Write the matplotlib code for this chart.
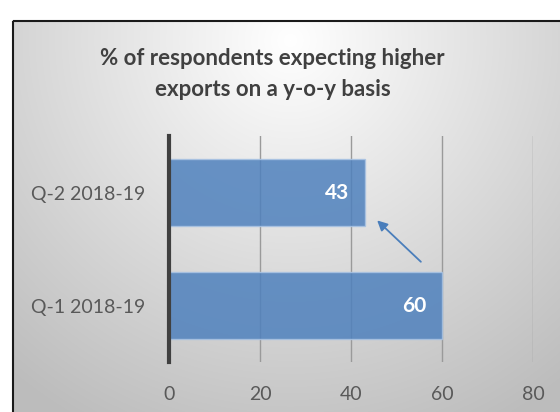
import numpy as np
import matplotlib.pyplot as plt
from matplotlib.patches import Rectangle

categories = ['Q-1 2018-19', 'Q-2 2018-19']
values = [60, 43]
xticks = [0, 20, 40, 60, 80]
title = '% of respondents expecting higher\nexports on a y-o-y basis'

plt.rcParams['font.family'] = ['Lato', 'DejaVu Sans']

fig = plt.figure(figsize=(5.6, 4.12), dpi=100)

# gradient background of the chart area
bg = fig.add_axes([0, 0, 1, 1], zorder=0)
yy, xx = np.mgrid[0:412, 0:560]
r = np.sqrt(((xx - 290) / 400.0) ** 2 + ((yy - 40) / 400.0) ** 2)
shade = np.clip(1.0 - 0.24 * r, 0.74, 1.0)
img = np.dstack([shade, shade, shade])
img[:20, :, :] = 1.0
img[:, :12, :] = 1.0
bg.imshow(img, extent=(0, 560, 412, 0), aspect='auto')
bg.add_patch(Rectangle((12.5, 20.5), 600, 500, fill=False, edgecolor='#1a1a1a', lw=1.5))
bg.set_xlim(0, 560)
bg.set_ylim(412, 0)
bg.axis('off')

ax = fig.add_axes([169 / 560, 1 - 362 / 412, (533 - 169) / 560, (362 - 136) / 412], zorder=1)
ax.patch.set_alpha(0)
pos = np.arange(len(categories))
ax.barh(pos, values, height=0.6, color='#4f81bd', alpha=0.85,
        edgecolor='#a9c3e3', linewidth=1, zorder=3)
for p, v in zip(pos, values):
    ax.annotate(str(v), (v, p), xytext=(-20, 0), textcoords='offset points',
                ha='center', va='center', color='white', fontsize=15,
                fontweight='bold', zorder=4)

ax.annotate('', xy=(45.3, 0.77), xytext=(55.8, 0.37),
            arrowprops=dict(arrowstyle='-|>', color='#4a7ebb', lw=1.3,
                            mutation_scale=15), zorder=5)

ax.set_xlim(0, 80)
ax.set_ylim(-0.5, 1.5)
ax.set_xticks(xticks)
ax.set_yticks(pos)
ax.set_yticklabels(categories)
ax.grid(axis='x', color='#9a9a9a', lw=1, zorder=1)
for s in ['top', 'right', 'bottom']:
    ax.spines[s].set_visible(False)
ax.spines['left'].set_color('#404040')
ax.spines['left'].set_linewidth(3)
ax.spines['left'].set_zorder(4)
ax.tick_params(axis='both', length=0, labelsize=14, colors='#595959')
ax.tick_params(axis='x', pad=17)
ax.tick_params(axis='y', pad=17)

fig.text(0.487, 1 - 74 / 412, title, ha='center', va='center', fontsize=16,
         fontweight='bold', color='#404040', linespacing=1.55)

fig.savefig('out.png', dpi=100)
